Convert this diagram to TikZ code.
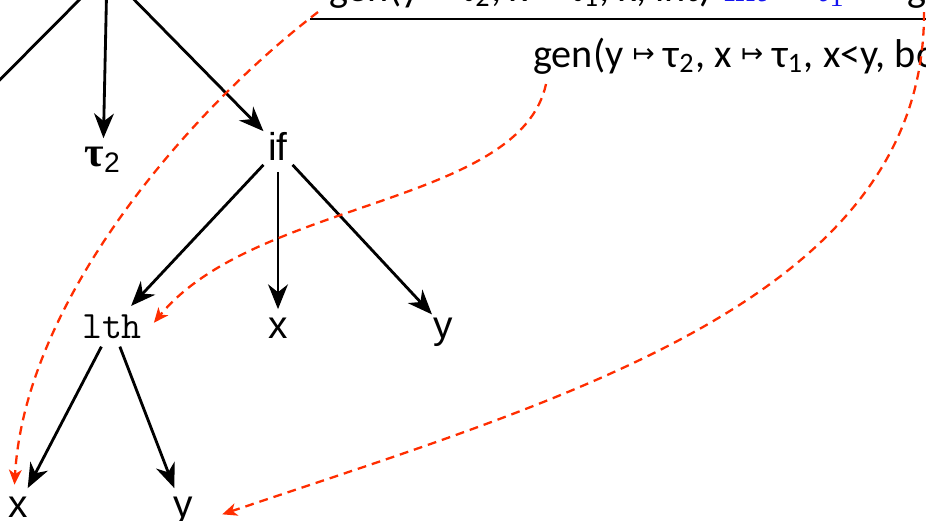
\documentclass[tikz,border=0pt]{standalone}
\usepackage{fontspec}
\setmainfont{Liberation Sans}
\newfontfamily\gentext{Carlito}
\newfontfamily\symtext{DejaVu Sans}
\newfontfamily\serftext{Liberation Serif}
\usetikzlibrary{arrows.meta,positioning}
\definecolor{linkred}{RGB}{255,45,0}
\definecolor{typeblue}{RGB}{20,20,240}
\tikzset{every picture/.style={line width=0.75pt}}
\newcommand{\mapsymb}{{\symtext\fontsize{7.5}{8}\selectfont\raisebox{1.2pt}{↦}}}

\begin{document}
\begin{tikzpicture}[x=0.2835pt,y=-0.2835pt,
    leaf/.style={font=\fontsize{11}{13}\selectfont, inner sep=2pt, anchor=base},
    edge/.style={-{Stealth[length=7pt,width=5.6pt,inset=2.2pt]}, line width=0.8pt},
    link/.style={draw=linkred, dash pattern=on 2.5pt off 1.7pt, line width=0.65pt,
        -{Stealth[length=4.2pt,width=3.6pt,inset=1.2pt]}},
    gen/.style={font=\gentext\fontsize{11.4}{14}\selectfont, inner sep=0pt, anchor=base west}]
    \path[use as bounding box] (0,0) rectangle (926,520);
    \clip (0,0) rectangle (926,520);

    % judgement (cut off by the frame)
    \node[gen] (prem) at (328,1) {gen(y \mapsymb{} τ\textsubscript{2}, x \mapsymb{} τ\textsubscript{1}, x, int)};
    \node[gen, font=\serftext\fontsize{11.4}{14}\selectfont, text=typeblue] (cint) at (723,1) {int};
    \node[gen, font=\serftext\fontsize{11.4}{14}\selectfont, text=typeblue] (ctau) at (812,1) {τ\textsubscript{1}};
    \node[gen] (prem2) at (906,1) {gen(};
    \coordinate (rulel) at (310,19);
    \coordinate (ruler) at (940,19);
    \draw[line width=0.8pt] (rulel) -- (ruler);
    \node[gen] (concl) at (532,67) {gen(y \mapsymb{} τ\textsubscript{2}, x \mapsymb{} τ\textsubscript{1}, x<y, bool)};

    % tree
    \coordinate (root) at (107,-28);
    \coordinate (left) at (-60,140);
    \node[leaf, font=\fontsize{12}{14}\selectfont] (tau) at (103,166) {{\serftext\bfseries τ}\textsubscript{2}};
    \node[leaf, inner sep=1pt] (if) at (278,160) {if};
    \node[leaf, font=\ttfamily\fontsize{11}{13}\selectfont] (lth) at (112,338) {lth};
    \node[leaf] (x1) at (278,338) {x};
    \node[leaf] (y1) at (443,338) {y};
    \node[leaf] (x2) at (18,517) {x};
    \node[leaf] (y2) at (183,517) {y};

    \draw[edge] (root) -- (left);
    \draw[edge] (root) -- (tau);
    \draw[edge] (root) -- (if);
    \draw[edge] (if.south west) -- (lth);
    \draw[edge, shorten <=2pt] (if) -- (x1);
    \draw[edge] (if.south east) -- ([shift={(2pt,-1.5pt)}]y1.north west);
    \draw[edge] (lth) -- (x2);
    \draw[edge] (lth) -- (y2);

    % links
    \coordinate (xarg) at (318,12);
    \coordinate (cond) at (546,84);
    \coordinate (yarg) at (924,12);
    \draw[link] (xarg) .. controls (190,110) and (25,300) .. ([xshift=-1pt,yshift=1pt]x2.north);
    \draw[link] (cond) .. controls (520,205) and (255,200) .. ([shift={(1pt,1pt)}]lth.east);
    \draw[link] (yarg) .. controls (925,300) and (560,400) .. ([xshift=6pt,yshift=-1pt]y2.east);
\end{tikzpicture}
\end{document}
